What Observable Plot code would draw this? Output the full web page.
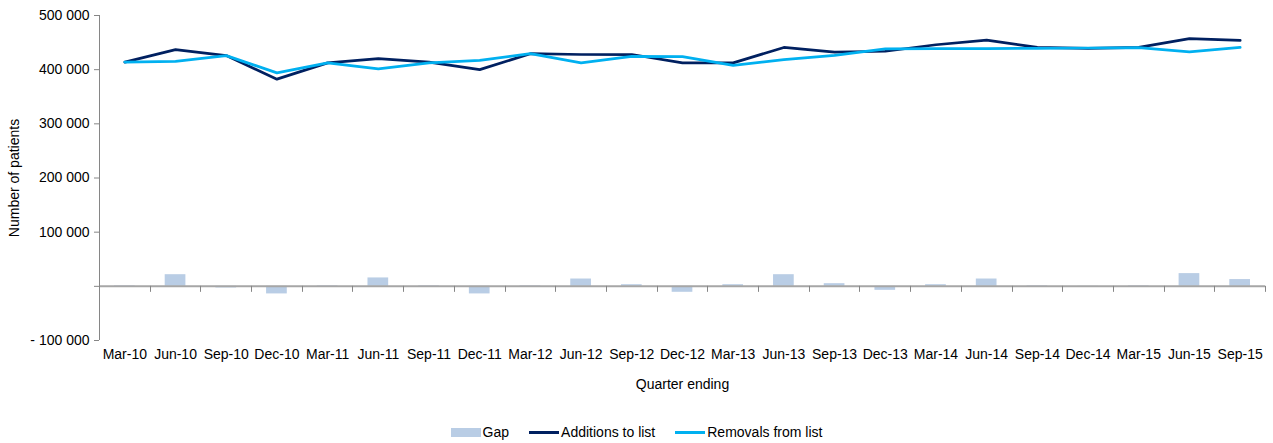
<!DOCTYPE html>
<html><head><meta charset="utf-8">
<script src="https://cdn.jsdelivr.net/npm/d3@7"></script>
<script src="https://cdn.jsdelivr.net/npm/@observablehq/plot@0.6"></script>
<style>
html,body{margin:0;padding:0;background:#fff;}
body{font-family:"Liberation Sans",Arial,sans-serif;position:relative;width:1273px;height:443px;overflow:hidden;}
#legend{position:absolute;left:0;top:423px;width:1273px;height:18px;display:flex;justify-content:center;align-items:center;font-size:14px;color:#000;}
#legend .item{display:flex;align-items:center;margin:0 10px;}
#legend .sw{display:inline-block;width:30px;margin-right:2px;}
#legend .bar{height:9px;background:#b9cde5;}
#legend .ln{height:3px;}
svg [aria-label="y-axis tick"]{stroke:#868686;}
</style></head><body>
<div id="chart"></div>
<div id="legend"></div>
<script>
const quarters = ["Mar-10","Jun-10","Sep-10","Dec-10","Mar-11","Jun-11","Sep-11","Dec-11","Mar-12","Jun-12","Sep-12","Dec-12","Mar-13","Jun-13","Sep-13","Dec-13","Mar-14","Jun-14","Sep-14","Dec-14","Mar-15","Jun-15","Sep-15"];
const additions = [414000, 437000, 426000, 382500, 412500, 420500, 414000, 400000, 429500, 428000, 428000, 412500, 412500, 441000, 432500, 434000, 446000, 454500, 441000, 439500, 441000, 457500, 454000];
const removals = [414000, 415500, 426000, 394000, 412500, 401500, 412500, 417000, 429500, 412500, 424500, 424000, 408000, 418500, 426500, 438500, 439000, 439000, 439500, 440000, 440500, 433000, 441000];
const gap = [1000, 21500, -3000, -14000, 1000, 15500, 1000, -14000, 1000, 13500, 3000, -11000, 3000, 21500, 4900, -7400, 3000, 13500, 1000, -2000, 1000, 23500, 12500];
const yTicks = [-100000, 0, 100000, 200000, 300000, 400000, 500000];
const yDomain = [-100000, 500000];
const seriesNames = ["Gap", "Additions to list", "Removals from list"];
const colors = {gap: "#b9cde5", add: "#002060", rem: "#00b0f0"};

const rows = quarters.map((q, i) => ({q, gap: gap[i], add: additions[i], rem: removals[i]}));
const loc = d3.formatLocale({thousands: " ", grouping: [3], decimal: ".", currency: ["", ""]});
const fmt = loc.format(",.0f");
const tickFormat = d => d === 0 ? "" : d < 0 ? "- " + fmt(-d) : fmt(d);

function axisLines(index, scales, values, dims) {
  const x = scales.x, y = scales.y;
  const bw = x.bandwidth ? x.bandwidth() : scales.scales.x.bandwidth;
  const g = d3.create("svg:g").attr("stroke", "#868686").attr("fill", "none");
  g.append("line").attr("x1", dims.marginLeft + 0.5).attr("x2", dims.marginLeft + 0.5)
    .attr("y1", y(yDomain[1])).attr("y2", y(yDomain[0]));
  const y0 = y(0);
  quarters.forEach(q => {
    const xx = Math.round(x(q) + bw) + 0.5;
    g.append("line").attr("x1", xx).attr("x2", xx).attr("y1", y0).attr("y2", y0 + 6);
  });
  return g.node();
}

const chart = Plot.plot({
  width: 1273, height: 400,
  marginLeft: 99, marginRight: 8, marginTop: 15, marginBottom: 60,
  style: {fontFamily: "Liberation Sans, Arial, sans-serif", fontSize: "14px", color: "#000", background: "#fff"},
  x: {type: "band", domain: quarters, padding: 0, round: false, label: "Quarter ending", labelAnchor: "center", labelOffset: 48, labelArrow: "none", tickSize: 0, tickPadding: 9},
  y: {domain: yDomain, ticks: yTicks, tickFormat, tickSize: 5, tickPadding: 5, label: "Number of patients", labelAnchor: "center", labelOffset: 90, labelArrow: "none"},
  marks: [
    Plot.barY(rows, {x: "q", y: "gap", fill: colors.gap, insetLeft: 15, insetRight: 15}),
    Plot.ruleY([0], {stroke: "#a6a6a6", strokeWidth: 2}),
    axisLines,
    Plot.line(rows, {x: "q", y: "add", stroke: colors.add, strokeWidth: 2.75}),
    Plot.line(rows, {x: "q", y: "rem", stroke: colors.rem, strokeWidth: 2.75})
  ]
});
document.getElementById("chart").appendChild(chart);

const legend = document.getElementById("legend");
[["bar", colors.gap], ["ln", colors.add], ["ln", colors.rem]].forEach(([cls, c], i) => {
  const item = document.createElement("span");
  item.className = "item";
  const sw = document.createElement("span");
  sw.className = "sw " + cls;
  sw.style.background = c;
  item.appendChild(sw);
  item.appendChild(document.createTextNode(seriesNames[i]));
  legend.appendChild(item);
});
</script>
</body></html>
